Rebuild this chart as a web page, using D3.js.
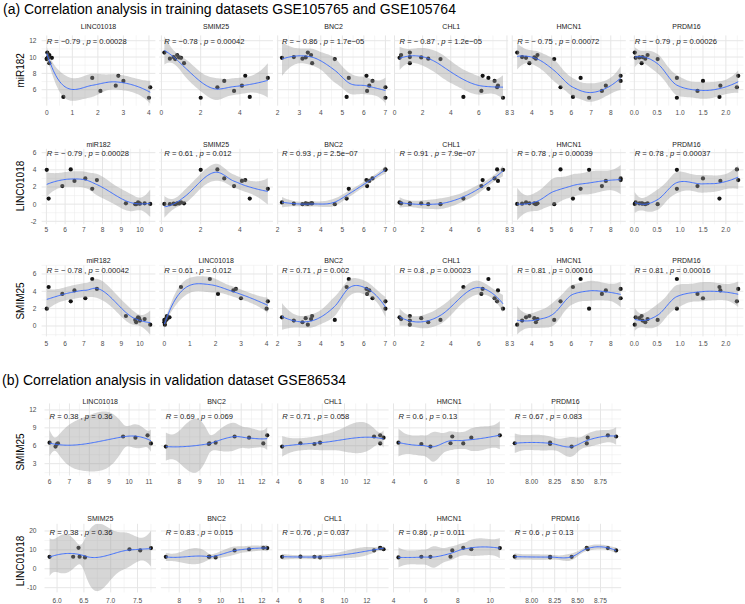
<!DOCTYPE html>
<html><head><meta charset="utf-8">
<script src="https://cdn.jsdelivr.net/npm/d3@7"></script>
<style>body{margin:0;background:#fff}</style>
</head><body>
<script>
// ================= DATA =================
// Training samples (GSE105765 / GSE105764), one value per sample
const miR182    = [5.02, 5.12, 5.85, 6.30, 6.50, 7.08, 7.45, 7.70, 9.25, 10.55, 9.80, 10.00, 10.25, 9.90, 9.75, 9.95];
const LINC01018 = [4.00, 0.65, 2.10, 4.05, 2.70, 3.00, 1.78, 2.80, 0.10, 0.02, 0.00, 0.05, 0.10, 0.20, 0.00, 0.08];
const SMIM25    = [2.00, 4.50, 3.70, 2.85, 4.10, 3.20, 5.42, 4.27, 1.15, 0.15, 0.43, 0.62, 0.80, 1.00, 0.70, 0.90];
const BNC2      = [7.00, 5.20, 6.15, 7.00, 6.25, 6.40, 5.30, 6.12, 3.60, 3.40, 3.15, 2.75, 3.55, 2.20, 4.65, 3.30];
const CHL1      = [7.72, 4.90, 6.18, 7.30, 7.36, 7.12, 6.68, 6.27, 1.09, 1.09, 2.40, 1.09, 0.47, 0.36, 3.27, 1.90];
const HMCN1     = [6.90, 6.08, 7.55, 5.45, 7.75, 8.50, 6.47, 8.50, 3.87, 3.25, 4.20, 3.50, 4.28, 3.70, 5.13, 4.12];
const PRDM16    = [0.93, 1.86, 1.38, 2.24, 1.88, 1.50, 0.93, 2.27, 0.16, 0.01, 0.24, 0.18, 0.29, 0.03, 0.51, 0.11];
// Validation samples (GSE86534)
const vLINC01018 = [6.00, 6.30, 6.37, 6.42, 9.70, 10.32, 10.93, 11.10];
const vSMIM25    = [6.52, 5.86, 6.30, 6.42, 7.55, 7.35, 7.75, 6.40];
const vBNC2      = [9.76, 7.35, 9.43, 9.46, 10.68, 11.38, 12.26, 12.07];
const vCHL1      = [7.80, 4.40, 7.30, 6.04, 12.65, 13.50, 13.20, 13.20];
const vHMCN1     = [4.31, 6.29, 5.73, 7.54, 7.65, 8.83, 10.60, 8.33];
const vPRDM16    = [8.20, 8.435, 8.20, 7.815, 8.92, 8.61, 8.83, 8.60];

// correlation annotations (as printed)
const rA1 = ["−0.79", "−0.78", "− 0.86", "− 0.87", "− 0.75", "− 0.79"];
const pA1 = ["0.00028", "0.00042", "1.7e−05", "1.2e−05", "0.00072", "0.00026"];
const rA2 = ["− 0.79", "0.61", "0.93", "0.91", "0.78", "0.78"];
const pA2 = ["0.00028", "0.012", "2.5e−07", "7.9e−07", "0.00039", "0.00037"];
const rA3 = ["− 0.78", "0.61", "0.71", "0.8", "0.81", "0.81"];
const pA3 = ["0.00042", "0.012", "0.002", "0.00023", "0.00016", "0.00016"];
const rB1 = ["0.38", "0.69", "0.71", "0.6", "0.67"];
const pB1 = ["0.36", "0.069", "0.058", "0.13", "0.083"];
const rB2 = ["0.38", "0.83", "0.76", "0.86", "0.6"];
const pB2 = ["0.36", "0.015", "0.037", "0.011", "0.13"];

// tick labels
const xtMIR  = ["5","6","7","8","9","10"];
const xtLINC = ["0","1","2","3","4"];
const xtSMIM = ["0","2","4"];
const xtBNC  = ["2","3","4","5","6","7"];
const xtCHL  = ["0","2","4","6","8"];
const xtHMCN = ["3","4","5","6","7","8"];
const xtPRDM = ["0.0","0.5","1.0","1.5","2.0"];
const xtvLINC = ["6","7","8","9","10","11"];
const xtvSMIM = ["6.0","6.5","7.0","7.5"];
const xtvBNC  = ["8","9","10","11","12"];
const xtvCHL  = ["4","6","8","10","12"];
const xtvHMCN = ["4","6","8","10"];
const xtvPRDM = ["8.00","8.25","8.50","8.75"];
const ytA1 = ["6","8","10","12"];
const ytA2 = ["-2","0","2","4","6"];
const ytA3 = ["0","2","4","6"];
const ytB1 = ["3","6","9","12"];
const ytB2 = ["-10","0","10","20"];

// ================= LOESS (degree 2, span 0.75, kd-tree + cubic interpolation, 95% CI) =================
function jacobiEig(A) {
  const a = A.map(r => r.slice());
  const V = [[1,0,0],[0,1,0],[0,0,1]];
  for (let sweep = 0; sweep < 60; sweep++) {
    const off = a[0][1]*a[0][1] + a[0][2]*a[0][2] + a[1][2]*a[1][2];
    if (off < 1e-30) break;
    for (let p = 0; p < 2; p++) for (let q = p+1; q < 3; q++) {
      if (Math.abs(a[p][q]) < 1e-300) continue;
      const th = (a[q][q] - a[p][p]) / (2*a[p][q]);
      const t = (th >= 0 ? 1 : -1) / (Math.abs(th) + Math.sqrt(th*th + 1));
      const c = 1/Math.sqrt(t*t + 1), s = t*c;
      for (let k = 0; k < 3; k++) { const akp = a[k][p], akq = a[k][q]; a[k][p] = c*akp - s*akq; a[k][q] = s*akp + c*akq; }
      for (let k = 0; k < 3; k++) { const apk = a[p][k], aqk = a[q][k]; a[p][k] = c*apk - s*aqk; a[q][k] = s*apk + c*aqk; }
      for (let k = 0; k < 3; k++) { const vkp = V[k][p], vkq = V[k][q]; V[k][p] = c*vkp - s*vkq; V[k][q] = s*vkp + c*vkq; }
    }
  }
  return {vals: [a[0][0], a[1][1], a[2][2]], V};
}
function gammaln(x) {
  const cof = [76.18009172947146,-86.50532032941677,24.01409824083091,-1.231739572450155,0.1208650973866179e-2,-0.5395239384953e-5];
  let y = x, tmp = x + 5.5; tmp -= (x + 0.5)*Math.log(tmp);
  let ser = 1.000000000190015;
  for (let j = 0; j < 6; j++) ser += cof[j] / ++y;
  return -tmp + Math.log(2.5066282746310005*ser/x);
}
function betacf(a, b, x) {
  const FPMIN = 1e-300, EPS = 3e-14;
  let qab = a+b, qap = a+1, qam = a-1, c = 1, d = 1 - qab*x/qap;
  if (Math.abs(d) < FPMIN) d = FPMIN; d = 1/d; let h = d;
  for (let m = 1; m <= 300; m++) {
    const m2 = 2*m;
    let aa = m*(b-m)*x/((qam+m2)*(a+m2));
    d = 1 + aa*d; if (Math.abs(d) < FPMIN) d = FPMIN;
    c = 1 + aa/c; if (Math.abs(c) < FPMIN) c = FPMIN;
    d = 1/d; h *= d*c;
    aa = -(a+m)*(qab+m)*x/((a+m2)*(qap+m2));
    d = 1 + aa*d; if (Math.abs(d) < FPMIN) d = FPMIN;
    c = 1 + aa/c; if (Math.abs(c) < FPMIN) c = FPMIN;
    d = 1/d; const del = d*c; h *= del;
    if (Math.abs(del - 1) < EPS) break;
  }
  return h;
}
function betai(a, b, x) {
  if (x <= 0) return 0; if (x >= 1) return 1;
  const bt = Math.exp(gammaln(a+b) - gammaln(a) - gammaln(b) + a*Math.log(x) + b*Math.log(1-x));
  if (x < (a+1)/(a+b+2)) return bt*betacf(a, b, x)/a;
  return 1 - bt*betacf(b, a, 1-x)/b;
}
function tcdf(t, df) { const p = 0.5*betai(df/2, 0.5, df/(df + t*t)); return t > 0 ? 1 - p : p; }
function qt975(df) {
  let lo = 0, hi = 1;
  while (tcdf(hi, df) < 0.975 && hi < 1e7) hi *= 2;
  for (let i = 0; i < 200; i++) { const m = (lo+hi)/2; if (tcdf(m, df) < 0.975) lo = m; else hi = m; }
  return (lo+hi)/2;
}
// approximation of delta1 / delta2 from trace of the operator (as in loess "approximate" statistics)
const DCOEF = [.2971620,.3802660,.5886043,.4263766,.3346498,.6271053,.5241198,.3484080,.6687687,.6338795,
  .4076457,.7207693,.1611761,.3091323,.4401023,.2939609,.3580278,.5555741,.397239,.4171278,.6293196,.4675173,
  .469907,.6674802,.2848308,.2254512,.2914126,.5393624,.2517230,.3898970,.7603231,.2969113,.4740130,.9664956,
  .3629838,.5348889,.2075670,.2822574,.2369957,.3911566,.2981154,.3623232,.5508869,.3501989,.4371032,.7002667,
  .2291147,.3656359];
function deltaApprox(trl, n) {
  const k = 3, d = 1, deg = 2;
  const corx = Math.sqrt(k/n);
  let z = (Math.sqrt(k/trl) - corx)/(1 - corx);
  z = Math.min(1, Math.max(0, z));
  const c4 = Math.exp(1);
  let i = 3*(Math.min(d, 4) - 1 + 4*(deg - 1));
  const e1 = DCOEF[i]*Math.pow(z, DCOEF[i+1])*Math.pow(1 - z, DCOEF[i+2])*c4;
  i += 24;
  const e2 = DCOEF[i]*Math.pow(z, DCOEF[i+1])*Math.pow(1 - z, DCOEF[i+2])*c4;
  return [n - trl*Math.exp(e1), n - trl*Math.exp(e2)];
}
function loessSmooth(xs, ys, span = 0.75, ngrid = 80) {
  const n = xs.length, q = Math.floor(n*span), fc = Math.floor(n*span*0.2);
  function opRows(x0) {
    const d = xs.map(x => Math.abs(x - x0));
    const sd = d.slice().sort((a, b) => a - b);
    let h = sd[Math.min(q, n) - 1]; if (!(h > 0)) h = 1e-9;
    const A = [[0,0,0],[0,0,0],[0,0,0]], X = [], w = [];
    for (let i = 0; i < n; i++) {
      const u = (xs[i] - x0)/h, r = d[i]/h;
      const wi = r < 1 ? Math.pow(1 - r*r*r, 3) : 0;
      X.push([1, u, u*u]); w.push(wi);
      for (let j = 0; j < 3; j++) for (let k = 0; k < 3; k++) A[j][k] += wi*X[i][j]*X[i][k];
    }
    const {vals, V} = jacobiEig(A);
    const lmax = Math.max(...vals.map(Math.abs));
    const c0 = [0,0,0], c1 = [0,0,0];
    for (let k = 0; k < 3; k++) {
      if (Math.abs(vals[k]) > lmax*1e-11) {
        const f0 = V[0][k]/vals[k], f1 = V[1][k]/vals[k];
        for (let j = 0; j < 3; j++) { c0[j] += f0*V[j][k]; c1[j] += f1*V[j][k]; }
      }
    }
    return {
      l: X.map((xi, i) => w[i]*(c0[0]*xi[0] + c0[1]*xi[1] + c0[2]*xi[2])),
      dl: X.map((xi, i) => w[i]*(c1[0]*xi[0] + c1[1]*xi[1] + c1[2]*xi[2])/h)
    };
  }
  const sx = xs.slice().sort((a, b) => a - b);
  const rng = sx[n-1] - sx[0];
  const mu = 0.005*Math.max(rng, 1e-10*Math.max(Math.abs(sx[0]), Math.abs(sx[n-1])) + 1e-30);
  const verts = [sx[0] - mu, sx[n-1] + mu];
  (function build(l, u, vlo, vhi) {
    if (u - l + 1 <= fc) return;
    let m = Math.floor((l + u)/2), off = 0;
    while (m + off < u && m + off >= l) {
      if (sx[m+off] === sx[m+off+1]) { off = -off; if (off >= 0) off += 1; }
      else { m = m + off; break; }
    }
    const xi = sx[m];
    if (xi === vlo || xi === vhi) return;
    verts.push(xi);
    build(l, m, vlo, xi); build(m + 1, u, xi, vhi);
  })(0, n - 1, verts[0], verts[1]);
  verts.sort((a, b) => a - b);
  const vops = verts.map(opRows);
  function interp(x) {
    let j = 0;
    while (j < verts.length - 2 && x > verts[j+1]) j++;
    const v0 = verts[j], v1 = verts[j+1], hc = v1 - v0, t = (x - v0)/hc;
    const t2 = t*t, t3 = t2*t;
    const h00 = 2*t3 - 3*t2 + 1, h10 = t3 - 2*t2 + t, h01 = -2*t3 + 3*t2, h11 = t3 - t2;
    const A = vops[j], B = vops[j+1];
    return A.l.map((_, i) => h00*A.l[i] + h10*hc*A.dl[i] + h01*B.l[i] + h11*hc*B.dl[i]);
  }
  const L = xs.map(interp);
  const fitted = L.map(l => d3.sum(l, (v, i) => v*ys[i]));
  const rss = d3.sum(ys, (v, i) => (v - fitted[i])**2);
  const trL = d3.sum(L, (row, i) => row[i]);
  let [d1, d2] = deltaApprox(trL, n);
  if (!(d1 > 0) || !(d2 > 0)) {
    const IL = L.map((row, i) => row.map((v, j) => (i === j ? 1 : 0) - v));
    d1 = 0; d2 = 0;
    for (let a = 0; a < n; a++) for (let b = 0; b < n; b++) {
      let m = 0; for (let k = 0; k < n; k++) m += IL[k][a]*IL[k][b];
      if (a === b) d1 += m; d2 += m*m;
    }
  }
  const s = Math.sqrt(rss/d1), df = d1*d1/d2, tq = qt975(df);
  const x0 = sx[0], x1 = sx[n-1], out = [];
  for (let g = 0; g < ngrid; g++) {
    const xg = x0 + (x1 - x0)*g/(ngrid - 1);
    const l = interp(xg);
    const fit = d3.sum(l, (v, i) => v*ys[i]);
    const se = s*Math.sqrt(d3.sum(l, v => v*v));
    out.push({x: xg, y: fit, lo: fit - tq*se, hi: fit + tq*se});
  }
  return out;
}

// ================= LAYOUT =================
const W = 745, H = 604;
const FONT = '"Liberation Sans", Arial, Helvetica, sans-serif';
const svg = d3.select("body").append("svg")
  .attr("width", W).attr("height", H).attr("viewBox", `0 0 ${W} ${H}`)
  .style("font-family", FONT).style("background", "#fff");

const colA = {left: 41.6, step: 117.6, width: 113.8};
const colB = {left: 44.5, step: 116.3, width: 111.5};

const rows = [
  {cols: colA, top: 35.4, bottom: 105.65, dom: [4.05, 12.65], strip: 26, xlab: 112, ytitleY: 70.3, labelY: 12,
   yv: miR182, yTitle: "miR182", yt: ytA1,
   xs: [LINC01018, SMIM25, BNC2, CHL1, HMCN1, PRDM16], names: ["LINC01018","SMIM25","BNC2","CHL1","HMCN1","PRDM16"],
   xt: [xtLINC, xtSMIM, xtBNC, xtCHL, xtHMCN, xtPRDM], R: rA1, P: pA1},
  {cols: colA, top: 148.8, bottom: 224.3, dom: [-2.35, 6.45], strip: 144, xlab: 229.5, ytitleY: 186, labelY: 6,
   yv: LINC01018, yTitle: "LINC01018", yt: ytA2,
   xs: [miR182, SMIM25, BNC2, CHL1, HMCN1, PRDM16], names: ["miR182","SMIM25","BNC2","CHL1","HMCN1","PRDM16"],
   xt: [xtMIR, xtSMIM, xtBNC, xtCHL, xtHMCN, xtPRDM], R: rA2, P: pA2},
  {cols: colA, top: 265.3, bottom: 336.4, dom: [-1.2, 7.0], strip: 260, xlab: 343.3, ytitleY: 301, labelY: 6.5,
   yv: SMIM25, yTitle: "SMIM25", yt: ytA3,
   xs: [miR182, LINC01018, BNC2, CHL1, HMCN1, PRDM16], names: ["miR182","LINC01018","BNC2","CHL1","HMCN1","PRDM16"],
   xt: [xtMIR, xtLINC, xtBNC, xtCHL, xtHMCN, xtPRDM], R: rA3, P: pA3},
  {cols: colB, top: 403.4, bottom: 475.6, dom: [1.0, 13.1], strip: 401.2, xlab: 481.7, ytitleY: 452, labelY: 11.05,
   yv: vSMIM25, yTitle: "SMIM25", yt: ytB1,
   xs: [vLINC01018, vBNC2, vCHL1, vHMCN1, vPRDM16], names: ["LINC01018","BNC2","CHL1","HMCN1","PRDM16"],
   xt: [xtvLINC, xtvBNC, xtvCHL, xtvHMCN, xtvPRDM], R: rB1, P: pB1},
  {cols: colB, top: 523.8, bottom: 592.4, dom: [-12.5, 23.8], strip: 518.3, xlab: 600, ytitleY: 561, labelY: 19.4,
   yv: vLINC01018, yTitle: "LINC01018", yt: ytB2,
   xs: [vSMIM25, vBNC2, vCHL1, vHMCN1, vPRDM16], names: ["SMIM25","BNC2","CHL1","HMCN1","PRDM16"],
   xt: [xtvSMIM, xtvBNC, xtvCHL, xtvHMCN, xtvPRDM], R: rB2, P: pB2}
];

svg.append("text").attr("x", 3).attr("y", 13.5).attr("font-size", 14).attr("fill", "#000")
  .text("(a) Correlation analysis in training datasets GSE105765 and GSE105764");
svg.append("text").attr("x", 2).attr("y", 385).attr("font-size", 14).attr("fill", "#000")
  .text("(b) Correlation analysis in validation dataset GSE86534");

function minorBreaks(ticks, dom) {
  const t = ticks.map(Number), step = t[1] - t[0], out = [];
  for (let v = t[0] - step/2; v <= t[t.length-1] + step/2 + 1e-9; v += step)
    if (v >= dom[0] && v <= dom[1]) out.push(v);
  return out;
}

let clipId = 0;
rows.forEach(row => {
  const yScale = d3.scaleLinear().domain(row.dom).range([row.bottom, row.top]);
  svg.append("text")
    .attr("transform", `translate(20.7,${row.ytitleY}) rotate(-90)`)
    .attr("text-anchor", "middle").attr("dominant-baseline", "central")
    .attr("font-size", 10).attr("fill", "#000").text(row.yTitle);
  row.yt.forEach(s => {
    svg.append("text").attr("x", 36.5).attr("y", yScale(+s))
      .attr("text-anchor", "end").attr("dominant-baseline", "central")
      .attr("font-size", 6.6).attr("fill", "#4d4d4d").text(s);
  });

  row.xs.forEach((xv, k) => {
    const px0 = row.cols.left + k*row.cols.step, pw = row.cols.width;
    const xmin = d3.min(xv), xmax = d3.max(xv), rr = xmax - xmin;
    const xDom = [xmin - 0.05*rr, xmax + 0.05*rr];
    const xScale = d3.scaleLinear().domain(xDom).range([px0, px0 + pw]);
    const g = svg.append("g");
    const id = "clip" + (clipId++);
    g.append("clipPath").attr("id", id).append("rect")
      .attr("x", px0).attr("y", row.top).attr("width", pw).attr("height", row.bottom - row.top);

    const xMaj = row.xt[k].map(Number).filter(v => v >= xDom[0] && v <= xDom[1]);
    const yMaj = row.yt.map(Number).filter(v => v >= row.dom[0] && v <= row.dom[1]);
    minorBreaks(row.xt[k], xDom).forEach(v => g.append("line")
      .attr("x1", xScale(v)).attr("x2", xScale(v)).attr("y1", row.top).attr("y2", row.bottom)
      .attr("stroke", "#ededed").attr("stroke-width", 0.55));
    minorBreaks(row.yt, row.dom).forEach(v => g.append("line")
      .attr("x1", px0).attr("x2", px0 + pw).attr("y1", yScale(v)).attr("y2", yScale(v))
      .attr("stroke", "#ededed").attr("stroke-width", 0.55));
    xMaj.forEach(v => g.append("line")
      .attr("x1", xScale(v)).attr("x2", xScale(v)).attr("y1", row.top).attr("y2", row.bottom)
      .attr("stroke", "#e6e6e6").attr("stroke-width", 1));
    yMaj.forEach(v => g.append("line")
      .attr("x1", px0).attr("x2", px0 + pw).attr("y1", yScale(v)).attr("y2", yScale(v))
      .attr("stroke", "#e6e6e6").attr("stroke-width", 1));

    const pts = xv.map((x, i) => ({x, y: row.yv[i]}));
    const plot = g.append("g").attr("clip-path", `url(#${id})`);
    plot.selectAll("circle").data(pts).join("circle")
      .attr("cx", d => xScale(d.x)).attr("cy", d => yScale(d.y)).attr("r", 2.1)
      .attr("fill", "#141414");

    const sm = loessSmooth(xv, row.yv);
    plot.append("path").datum(sm)
      .attr("d", d3.area().x(d => xScale(d.x)).y0(d => yScale(d.lo)).y1(d => yScale(d.hi)))
      .attr("fill", "#999999").attr("fill-opacity", 0.4);
    plot.append("path").datum(sm)
      .attr("d", d3.line().x(d => xScale(d.x)).y(d => yScale(d.y)))
      .attr("fill", "none").attr("stroke", "#3366FF").attr("stroke-width", 0.9);

    const t = plot.append("text").attr("x", xScale(xmin)).attr("y", yScale(row.labelY))
      .attr("dominant-baseline", "central").attr("font-size", 7.6).attr("fill", "#1a1a1a");
    t.append("tspan").attr("font-style", "italic").text("R");
    t.append("tspan").text(` = ${row.R[k]} , `);
    t.append("tspan").attr("font-style", "italic").text("p");
    t.append("tspan").text(` = ${row.P[k]}`);

    svg.append("text").attr("x", px0 + pw/2).attr("y", row.strip)
      .attr("text-anchor", "middle").attr("dominant-baseline", "central")
      .attr("font-size", 7).attr("fill", "#1a1a1a").text(row.names[k]);
    row.xt[k].forEach(s => {
      const v = +s; if (v < xDom[0] || v > xDom[1]) return;
      svg.append("text").attr("x", xScale(v)).attr("y", row.xlab)
        .attr("text-anchor", "middle").attr("dominant-baseline", "central")
        .attr("font-size", 6.6).attr("fill", "#4d4d4d").text(s);
    });
  });
});
</script>
</body></html>
